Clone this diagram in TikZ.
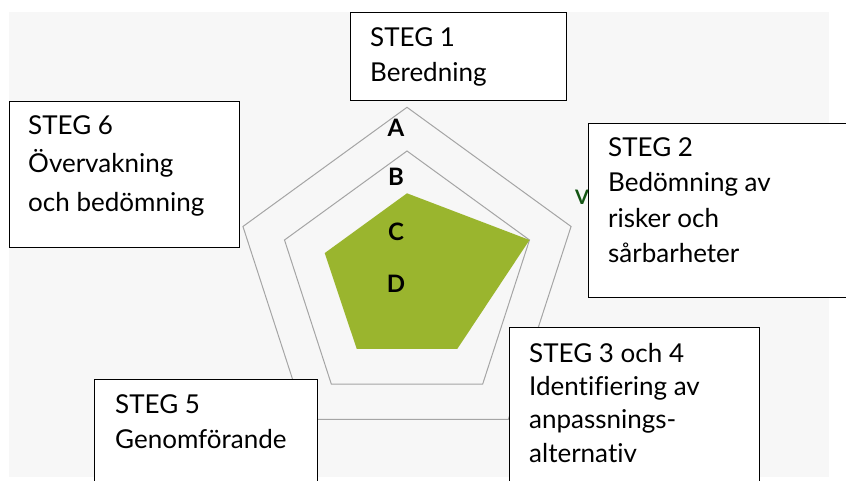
\documentclass[tikz,border=0pt]{standalone}
\usepackage{fontspec}
\setmainfont{Lato}[Ligatures=NoCommon]
\definecolor{bgcol}{RGB}{247,247,247}
\definecolor{ringcol}{RGB}{165,165,165}
\definecolor{greenfill}{RGB}{154,181,46}
\definecolor{darkgreen}{RGB}{20,85,20}
\begin{document}
\begin{tikzpicture}[x=1pt,y=-1pt,
  box/.style={draw=black, line width=1.2pt, fill=white, inner sep=0pt, anchor=north west},
  ln/.style={anchor=base west, inner sep=0pt, font=\fontsize{26}{30}\selectfont},
  ring/.style={draw=ringcol, line width=1pt, line join=miter},
  lvl/.style={font=\fontsize{24}{24}\selectfont\bfseries, inner sep=0pt, anchor=center}]
\useasboundingbox (0,0) rectangle (846,481);
\clip (0,0) rectangle (846,481);
\fill[bgcol] (9,12) rectangle (829,477);
% radar rings
\coordinate (c) at (407,279.8);
\draw[ring,shift={(c)}] (270:172.5) -- (342:172.5) -- (54:172.5) -- (126:172.5) -- (198:172.5) -- cycle;
\draw[ring,shift={(c)}] (270:128.8) -- (342:128.8) -- (54:128.8) -- (126:128.8) -- (198:128.8) -- cycle;
% data polygon
\fill[greenfill,shift={(c)}] (270:86.5) -- (342:128.8) -- (54:85.5) -- (126:85.5) -- (198:86.5) -- cycle;
% level labels
\node[lvl] (la) at (396,128) {A};
\node[lvl] (lb) at (396,177) {B};
\node[lvl] (lc) at (396,232) {C};
\node[lvl] (ld) at (396,283.5) {D};
% partly hidden label
\node[anchor=base west, inner sep=0pt, text=darkgreen, font=\fontsize{20}{20}\selectfont\bfseries] (v) at (575,205) {V};
% step boxes
\node[box, minimum width=216pt, minimum height=88pt] (s1) at (350,12) {};
\node[ln] (s1a) at (370,47) {STEG 1};
\node[ln] (s1b) at (370,82) {Beredning};
\node[box, minimum width=270pt, minimum height=174pt] (s2) at (588,123) {};
\node[ln] (s2a) at (608,157) {STEG 2};
\node[ln] (s2b) at (608,192) {Bedömning av};
\node[ln] (s2c) at (608,228) {risker och};
\node[ln] (s2d) at (608,262) {sårbarheter};
\node[box, minimum width=250pt, minimum height=170pt] (s34) at (509,327) {};
\node[ln] (s34a) at (529,362) {STEG 3 och 4};
\node[ln] (s34b) at (529,395) {Identifiering av};
\node[ln] (s34c) at (529,428) {anpassnings-};
\node[ln] (s34d) at (529,462) {alternativ};
\node[box, minimum width=223pt, minimum height=120pt] (s5) at (94,379) {};
\node[ln] (s5a) at (115,413) {STEG 5};
\node[ln] (s5b) at (115,448) {Genomförande};
\node[box, minimum width=230pt, minimum height=146pt] (s6) at (9,101) {};
\node[ln] (s6a) at (28,135) {STEG 6};
\node[ln] (s6b) at (28,173) {Övervakning};
\node[ln] (s6c) at (28,212) {och bedömning};
\end{tikzpicture}
\end{document}
